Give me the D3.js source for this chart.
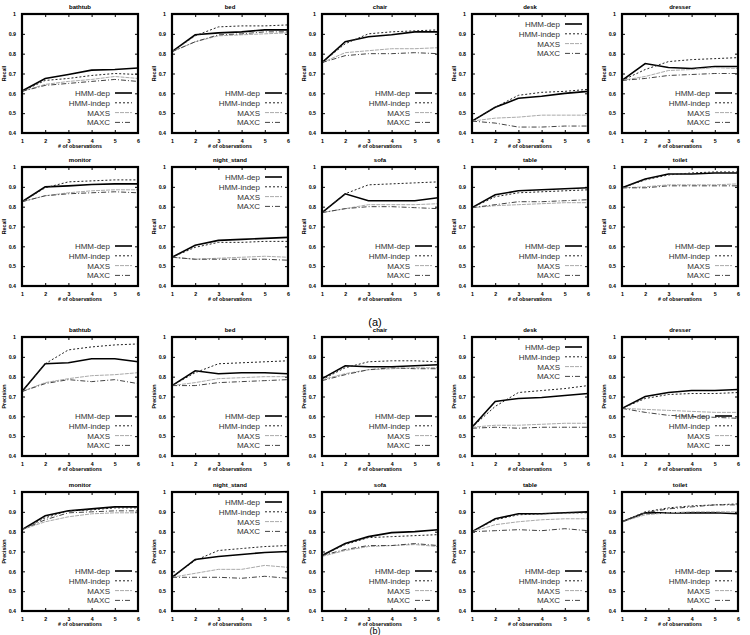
<!DOCTYPE html>
<html>
<head>
<meta charset="utf-8">
<script src="https://cdn.jsdelivr.net/npm/d3@7"></script>
<style>
body { margin: 0; background: #fff; }
text { font-family: "Liberation Sans", Arial, sans-serif; }
</style>
</head>
<body>
<script>
// object categories, one small plot each
var categories = ["bathtub", "bed", "chair", "desk", "dresser",
                  "monitor", "night_stand", "sofa", "table", "toilet"];
var seriesNames = ["HMM-dep", "HMM-indep", "MAXS", "MAXC"];
var xTicks = [1, 2, 3, 4, 5, 6];
var yTicks = [0.4, 0.5, 0.6, 0.7, 0.8, 0.9, 1];

// recall, one row per category (same order as categories)
var recallHmmDep = [
  [0.612, 0.675, 0.695, 0.717, 0.72, 0.728],
  [0.81, 0.895, 0.905, 0.91, 0.92, 0.92],
  [0.755, 0.86, 0.885, 0.895, 0.91, 0.91],
  [0.46, 0.53, 0.575, 0.585, 0.60, 0.61],
  [0.665, 0.75, 0.73, 0.725, 0.735, 0.735],
  [0.825, 0.90, 0.905, 0.912, 0.915, 0.915],
  [0.545, 0.605, 0.63, 0.635, 0.64, 0.645],
  [0.77, 0.865, 0.83, 0.83, 0.83, 0.845],
  [0.795, 0.86, 0.88, 0.885, 0.89, 0.895],
  [0.895, 0.94, 0.965, 0.965, 0.97, 0.97]
];
var recallHmmIndep = [
  [0.61, 0.665, 0.675, 0.69, 0.70, 0.695],
  [0.81, 0.89, 0.935, 0.94, 0.94, 0.945],
  [0.755, 0.85, 0.90, 0.91, 0.915, 0.92],
  [0.46, 0.53, 0.59, 0.605, 0.61, 0.62],
  [0.665, 0.72, 0.76, 0.77, 0.775, 0.78],
  [0.825, 0.895, 0.925, 0.93, 0.935, 0.935],
  [0.545, 0.595, 0.62, 0.62, 0.625, 0.625],
  [0.77, 0.865, 0.91, 0.915, 0.92, 0.925],
  [0.795, 0.85, 0.87, 0.875, 0.88, 0.885],
  [0.895, 0.935, 0.96, 0.97, 0.975, 0.975]
];
var recallMaxs = [
  [0.61, 0.645, 0.66, 0.67, 0.685, 0.675],
  [0.81, 0.86, 0.89, 0.895, 0.90, 0.905],
  [0.755, 0.805, 0.815, 0.825, 0.825, 0.83],
  [0.46, 0.475, 0.48, 0.49, 0.49, 0.49],
  [0.665, 0.685, 0.715, 0.72, 0.73, 0.725],
  [0.825, 0.855, 0.87, 0.88, 0.885, 0.885],
  [0.545, 0.535, 0.54, 0.545, 0.55, 0.545],
  [0.77, 0.79, 0.81, 0.81, 0.81, 0.815],
  [0.795, 0.805, 0.81, 0.815, 0.82, 0.82],
  [0.895, 0.90, 0.91, 0.91, 0.91, 0.915]
];
var recallMaxc = [
  [0.61, 0.64, 0.65, 0.66, 0.67, 0.66],
  [0.81, 0.86, 0.895, 0.90, 0.91, 0.91],
  [0.755, 0.79, 0.80, 0.80, 0.805, 0.80],
  [0.46, 0.45, 0.43, 0.43, 0.435, 0.435],
  [0.665, 0.675, 0.69, 0.695, 0.70, 0.70],
  [0.825, 0.855, 0.865, 0.87, 0.875, 0.87],
  [0.545, 0.535, 0.535, 0.535, 0.535, 0.53],
  [0.77, 0.79, 0.80, 0.80, 0.795, 0.79],
  [0.795, 0.81, 0.825, 0.825, 0.83, 0.835],
  [0.895, 0.895, 0.905, 0.905, 0.905, 0.905]
];

// precision, same layout
var precHmmDep = [
  [0.725, 0.865, 0.87, 0.89, 0.89, 0.875],
  [0.755, 0.83, 0.815, 0.82, 0.82, 0.815],
  [0.79, 0.855, 0.85, 0.85, 0.855, 0.86],
  [0.545, 0.675, 0.69, 0.695, 0.705, 0.715],
  [0.64, 0.70, 0.72, 0.73, 0.73, 0.735],
  [0.81, 0.88, 0.905, 0.915, 0.925, 0.925],
  [0.57, 0.66, 0.675, 0.685, 0.695, 0.70],
  [0.68, 0.74, 0.775, 0.795, 0.80, 0.81],
  [0.80, 0.865, 0.89, 0.89, 0.895, 0.90],
  [0.85, 0.895, 0.895, 0.895, 0.895, 0.89]
];
var precHmmIndep = [
  [0.725, 0.865, 0.935, 0.95, 0.96, 0.965],
  [0.755, 0.82, 0.865, 0.87, 0.875, 0.88],
  [0.785, 0.845, 0.875, 0.88, 0.88, 0.875],
  [0.545, 0.65, 0.72, 0.73, 0.74, 0.755],
  [0.64, 0.69, 0.71, 0.715, 0.715, 0.72],
  [0.81, 0.87, 0.905, 0.91, 0.92, 0.92],
  [0.57, 0.655, 0.705, 0.715, 0.725, 0.73],
  [0.68, 0.735, 0.77, 0.775, 0.78, 0.785],
  [0.80, 0.86, 0.885, 0.89, 0.895, 0.895],
  [0.85, 0.90, 0.92, 0.93, 0.935, 0.94]
];
var precMaxs = [
  [0.725, 0.77, 0.79, 0.805, 0.81, 0.82],
  [0.755, 0.77, 0.79, 0.795, 0.80, 0.80],
  [0.785, 0.815, 0.835, 0.84, 0.845, 0.845],
  [0.545, 0.555, 0.555, 0.56, 0.565, 0.565],
  [0.64, 0.635, 0.63, 0.625, 0.62, 0.62],
  [0.81, 0.85, 0.875, 0.89, 0.895, 0.895],
  [0.57, 0.59, 0.61, 0.61, 0.63, 0.62],
  [0.675, 0.705, 0.725, 0.73, 0.735, 0.725],
  [0.80, 0.835, 0.85, 0.86, 0.865, 0.865],
  [0.85, 0.885, 0.895, 0.90, 0.90, 0.90]
];
var precMaxc = [
  [0.725, 0.765, 0.785, 0.775, 0.785, 0.765],
  [0.755, 0.755, 0.77, 0.775, 0.78, 0.785],
  [0.78, 0.81, 0.835, 0.845, 0.84, 0.84],
  [0.54, 0.545, 0.54, 0.545, 0.545, 0.545],
  [0.64, 0.62, 0.605, 0.60, 0.595, 0.59],
  [0.81, 0.86, 0.895, 0.90, 0.905, 0.905],
  [0.57, 0.57, 0.57, 0.565, 0.575, 0.565],
  [0.68, 0.71, 0.73, 0.73, 0.74, 0.73],
  [0.80, 0.805, 0.81, 0.805, 0.815, 0.805],
  [0.85, 0.895, 0.915, 0.925, 0.935, 0.935]
];

var width = 750, height = 635;
var plotW = 116, plotH = 119;
var colX = [22, 172, 322, 472, 622];
var rowTop = [14, 167, 337, 492];
var topLegend = ["desk", "night_stand"]; //these two have the legend at the top

//line styles per series
var styles = [
  { stroke: "#000", width: 1.6, dash: null },
  { stroke: "#222", width: 1, dash: "2,2" },
  { stroke: "#aaa", width: 1, dash: "4,1" },
  { stroke: "#444", width: 1, dash: "5,2,1,2" }
];

var svg = d3.select("body").append("svg")
  .attr("width", width)
  .attr("height", height);

var x = d3.scaleLinear().domain([1, 6]).range([0, plotW]);
var y = d3.scaleLinear().domain([0.4, 1]).range([plotH, 0]);

function drawPanel(row, col, catIndex, yTitle, seriesSets)
{
  var cat = categories[catIndex];
  var g = svg.append("g")
    .attr("transform", "translate(" + colX[col] + "," + rowTop[row] + ")");

  //inward ticks on all four sides
  var axes = [
    { ax: d3.axisBottom(x).tickValues(xTicks), t: "translate(0," + plotH + ")", lab: true },
    { ax: d3.axisTop(x).tickValues(xTicks), t: "translate(0,0)", lab: false },
    { ax: d3.axisLeft(y).tickValues(yTicks), t: "translate(0,0)", lab: true },
    { ax: d3.axisRight(y).tickValues(yTicks), t: "translate(" + plotW + ",0)", lab: false }
  ];
  axes.forEach(function (a)
  {
    a.ax.tickSizeInner(-3).tickSizeOuter(0).tickPadding(6)
      .tickFormat(a.lab ? d3.format("") : "");
    var ag = g.append("g").attr("transform", a.t).call(a.ax);
    ag.select(".domain").remove();
    ag.selectAll("line").attr("stroke", "#000").attr("stroke-width", 1);
    ag.selectAll("text")
      .attr("font-size", 5.3)
      .attr("font-weight", "bold")
      .attr("fill", "#000");
  });

  //series lines
  var line = d3.line()
    .x(function (d, i) { return x(xTicks[i]); })
    .y(function (d) { return y(d); });

  seriesSets.forEach(function (set, s)
  {
    g.append("path")
      .datum(set[catIndex])
      .attr("d", line)
      .attr("fill", "none")
      .attr("stroke", styles[s].stroke)
      .attr("stroke-width", styles[s].width)
      .attr("stroke-dasharray", styles[s].dash);
  });

  //frame
  g.append("rect")
    .attr("width", plotW)
    .attr("height", plotH)
    .attr("fill", "none")
    .attr("stroke", "#000")
    .attr("stroke-width", 2.2);

  //title and axis labels
  g.append("text")
    .attr("x", plotW / 2).attr("y", -5)
    .attr("text-anchor", "middle")
    .attr("font-size", 6).attr("font-weight", "bold")
    .text(cat);

  g.append("text")
    .attr("x", plotW / 2).attr("y", plotH + 15)
    .attr("text-anchor", "middle")
    .attr("font-size", 5.3).attr("font-weight", "bold")
    .text("# of observations");

  g.append("text")
    .attr("transform", "translate(-16," + (plotH / 2) + ") rotate(-90)")
    .attr("text-anchor", "middle")
    .attr("font-size", 5.3).attr("font-weight", "bold")
    .text(yTitle);

  //legend
  var ly0 = topLegend.indexOf(cat) >= 0 ? 10 : plotH - 40;
  seriesNames.forEach(function (name, s)
  {
    var ly = ly0 + s * 9.8;
    g.append("text")
      .attr("x", plotW - 28).attr("y", ly + 3)
      .attr("text-anchor", "end")
      .attr("font-size", 8)
      .attr("fill", "#333")
      .text(name);
    g.append("line")
      .attr("x1", plotW - 23).attr("x2", plotW - 6)
      .attr("y1", ly).attr("y2", ly)
      .attr("stroke", styles[s].stroke)
      .attr("stroke-width", styles[s].width)
      .attr("stroke-dasharray", styles[s].dash);
  });
}

var recallSets = [recallHmmDep, recallHmmIndep, recallMaxs, recallMaxc];
var precSets = [precHmmDep, precHmmIndep, precMaxs, precMaxc];

categories.forEach(function (c, i)
{
  var r = Math.floor(i / 5), col = i % 5;
  drawPanel(r, col, i, "Recall", recallSets);
  drawPanel(r + 2, col, i, "Precision", precSets);
});

svg.append("text")
  .attr("x", 375).attr("y", 326)
  .attr("text-anchor", "middle")
  .attr("font-family", "Liberation Serif, serif")
  .attr("font-size", 11)
  .text("(a)");

//the (b) caption sits at the very bottom edge, as in the source figure
svg.append("text")
  .attr("x", 375).attr("y", 634)
  .attr("text-anchor", "middle")
  .attr("font-family", "Liberation Serif, serif")
  .attr("font-size", 9)
  .text("(b)");
</script>
</body>
</html>
